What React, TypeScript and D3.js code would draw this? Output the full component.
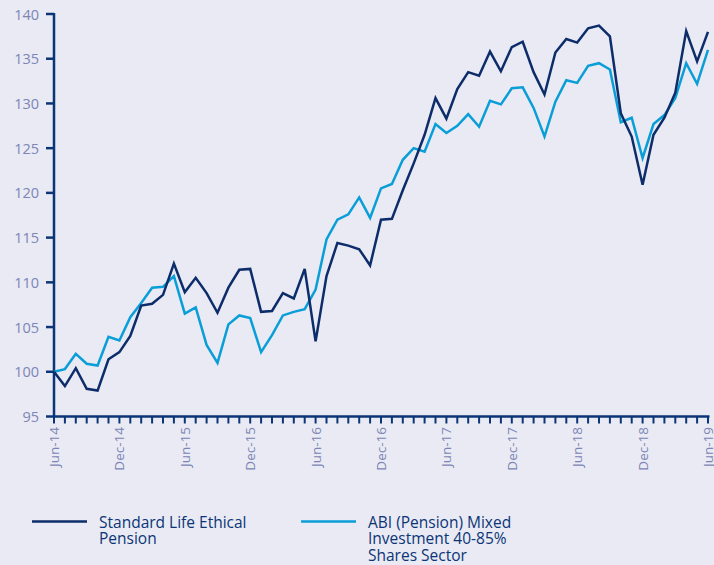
import React from 'react';
import * as d3 from 'd3';

const months = d3.range(61);
const tickLabels = ['Jun-14', 'Dec-14', 'Jun-15', 'Dec-15', 'Jun-16', 'Dec-16', 'Jun-17', 'Dec-17', 'Jun-18', 'Dec-18', 'Jun-19'];
const yTicks = [95, 100, 105, 110, 115, 120, 125, 130, 135, 140];

const ethical = [100.0, 98.4, 100.4, 98.1, 97.9, 101.4, 102.2, 104.0, 107.4, 107.6,
  108.6, 112.1, 108.9, 110.5, 108.8, 106.6, 109.4, 111.4, 111.5, 106.7,
  106.8, 108.8, 108.2, 111.5, 103.4, 110.7, 114.4, 114.1, 113.7, 111.9,
  117.0, 117.1, 120.3, 123.3, 126.5, 130.6, 128.3, 131.6, 133.5, 133.1,
  135.8, 133.6, 136.3, 136.9, 133.5, 131.0, 135.7, 137.2, 136.8, 138.4,
  138.7, 137.5, 128.9, 126.3, 120.9, 126.5, 128.4, 131.2, 138.1, 134.7, 138.0];

const abi = [100.0, 100.3, 102.0, 100.9, 100.7, 103.9, 103.5, 106.1, 107.7, 109.4,
  109.5, 110.7, 106.5, 107.2, 103.0, 101.0, 105.3, 106.3, 106.0, 102.2,
  104.1, 106.3, 106.7, 107.0, 109.2, 114.8, 117.0, 117.6, 119.5, 117.2,
  120.5, 121.0, 123.7, 125.0, 124.6, 127.7, 126.7, 127.5, 128.8, 127.4,
  130.3, 129.9, 131.7, 131.8, 129.5, 126.3, 130.2, 132.6, 132.3, 134.2,
  134.5, 133.8, 127.9, 128.4, 123.9, 127.7, 128.7, 130.6, 134.5, 132.2, 136.0];

const legendSeries = [
  { lines: ['Standard Life Ethical', 'Pension'], color: '#0c2c6a' },
  { lines: ['ABI (Pension) Mixed', 'Investment 40-85%', 'Shares Sector'], color: '#0a9ed8' },
];

const W = 714;
const H = 565;
const axisColor = '#0b3577';
const labelColor = '#7c85b6';
const font = '"Open Sans", "DejaVu Sans", sans-serif';

const App = () => {
  const x = d3.scaleLinear().domain([0, 60]).range([54, 708]);
  const y = d3.scaleLinear().domain([95, 140]).range([416.5, 14]);

  const line = d3
    .line<number>()
    .x((d, i) => x(i))
    .y(d => y(d));

  return (
    <svg
      width={W}
      height={H}
      style={{ position: 'absolute', left: 0, top: 0, background: '#e9eaf3' }}>
      {/* y axis */}
      <line x1={54} x2={54} y1={y(140) - 1} y2={y(95)} stroke={axisColor} strokeWidth={2.5} />
      {yTicks.map(t => (
        <g key={t}>
          <line x1={46} x2={54} y1={y(t)} y2={y(t)} stroke={axisColor} strokeWidth={2.5} />
          <text
            x={39}
            y={y(t)}
            textAnchor="end"
            dominantBaseline="central"
            fill={labelColor}
            fontFamily={font}
            fontSize={14.5}>
            {t}
          </text>
        </g>
      ))}

      {/* x axis */}
      <line x1={53} x2={x(60) + 1.5} y1={y(95)} y2={y(95)} stroke={axisColor} strokeWidth={2.5} />
      {months.map(m => (
        <line key={m} x1={x(m)} x2={x(m)} y1={y(95)} y2={y(95) + 7} stroke={axisColor} strokeWidth={2} />
      ))}
      {tickLabels.map((lab, i) => (
        <text
          key={lab}
          transform={`translate(${x(i * 6)},427) rotate(-90)`}
          textAnchor="end"
          dominantBaseline="central"
          fill={labelColor}
          fontFamily={font}
          fontSize={13.5}>
          {lab}
        </text>
      ))}

      {/* series */}
      <path d={line(abi) || ''} fill="none" stroke={legendSeries[1].color} strokeWidth={2.5} />
      <path d={line(ethical) || ''} fill="none" stroke={legendSeries[0].color} strokeWidth={2.5} />

      {/* legend */}
      {legendSeries.map((s, i) => {
        const lx = i === 0 ? 32 : 301;
        return (
          <g key={i}>
            <line x1={lx} x2={lx + 55} y1={521.5} y2={521.5} stroke={s.color} strokeWidth={2.5} />
            <text
              y={527.5}
              fill={axisColor}
              fontFamily={font}
              fontSize={15.5}>
              {s.lines.map((t, j) => (
                <tspan key={j} x={lx + 67} dy={j === 0 ? 0 : 16.5}>
                  {t}
                </tspan>
              ))}
            </text>
          </g>
        );
      })}
    </svg>
  );
};

export default App;
